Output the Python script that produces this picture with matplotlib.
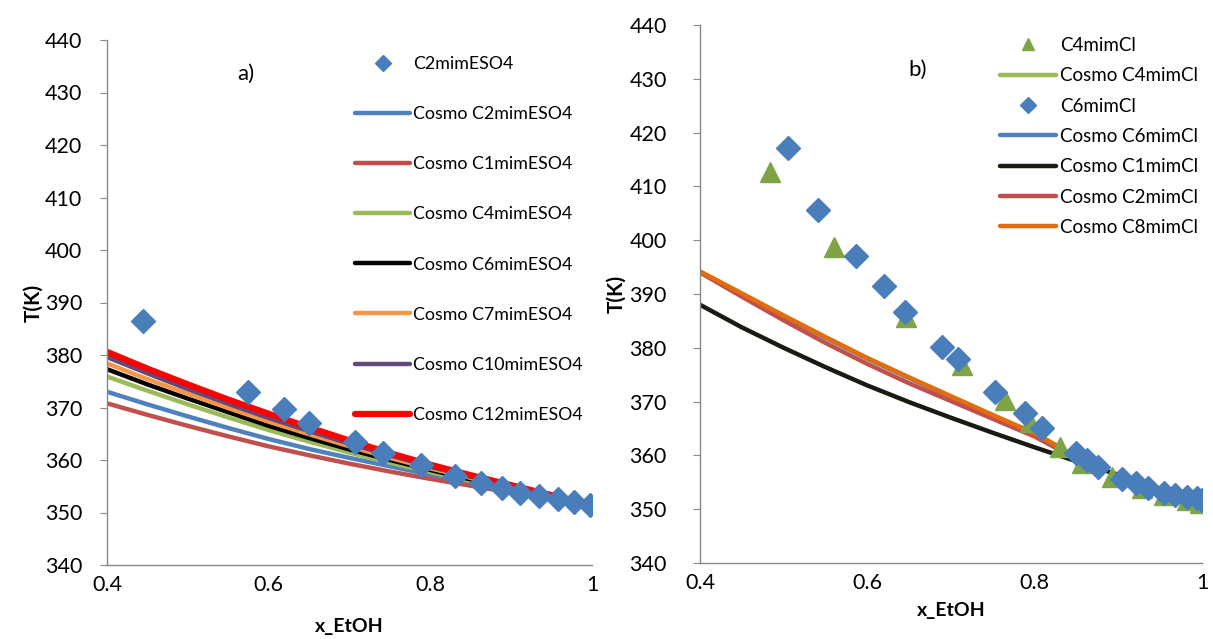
import matplotlib
matplotlib.use("Agg")
import matplotlib.pyplot as plt
from matplotlib.lines import Line2D

plt.rcParams['font.family'] = ['Lato', 'DejaVu Sans']

# ---------------- Panel a) data ----------------
a_exp_x = [0.445, 0.574, 0.619, 0.650, 0.707, 0.741, 0.789, 0.831, 0.863,
           0.889, 0.911, 0.935, 0.958, 0.978, 0.997]
a_exp_T = [386.5, 373.0, 369.7, 367.0, 363.4, 361.4, 359.0, 357.0, 355.7,
           354.6, 353.8, 353.1, 352.5, 352.0, 351.5]

a_cosmo_x = [0.40, 0.45, 0.50, 0.55, 0.60, 0.65, 0.70, 0.75, 0.80, 0.85, 0.90, 0.95, 1.00]
a_C12 = [380.6, 377.4, 374.4, 371.5, 368.8, 366.2, 363.7, 361.3, 359.1, 357.1, 355.2, 353.3, 351.4]
a_C10 = [379.6, 376.5, 373.5, 370.7, 368.0, 365.5, 363.1, 360.9, 358.7, 356.8, 355.0, 353.2, 351.4]
a_C7 = [378.4, 375.4, 372.6, 369.9, 367.3, 364.9, 362.6, 360.4, 358.4, 356.6, 354.8, 353.1, 351.4]
a_C6 = [377.3, 374.4, 371.7, 369.1, 366.5, 364.2, 362.0, 360.0, 358.1, 356.3, 354.6, 353.0, 351.4]
a_C4 = [375.9, 373.2, 370.6, 368.1, 365.7, 363.5, 361.4, 359.5, 357.7, 356.0, 354.4, 352.9, 351.4]
a_C2 = [373.0, 370.6, 368.3, 366.1, 364.0, 362.1, 360.4, 358.8, 357.2, 355.7, 354.2, 352.8, 351.4]
a_C1 = [370.8, 368.6, 366.5, 364.5, 362.6, 360.9, 359.3, 357.8, 356.4, 355.1, 353.8, 352.6, 351.4]

# ---------------- Panel b) data ----------------
b_C4_x = [0.484, 0.560, 0.646, 0.713, 0.764, 0.794, 0.830, 0.857, 0.893,
          0.928, 0.954, 0.982, 0.998]
b_C4_T = [412.7, 398.8, 385.8, 376.8, 370.3, 366.3, 361.6, 358.5, 356.0,
          353.9, 352.6, 351.7, 351.1]

b_C6_x = [0.505, 0.541, 0.586, 0.620, 0.645, 0.689, 0.708, 0.752, 0.788,
          0.809, 0.849, 0.863, 0.876, 0.904, 0.921, 0.936, 0.954, 0.968,
          0.982, 0.994, 1.000]
b_C6_T = [417.1, 405.7, 397.1, 391.4, 386.7, 380.2, 377.9, 371.7, 367.8,
          365.1, 360.5, 359.1, 357.8, 355.6, 354.8, 353.9, 353.1, 352.6,
          352.3, 352.0, 351.7]

b_cosmo_x = [0.40, 0.45, 0.50, 0.55, 0.60, 0.65, 0.70, 0.75, 0.80, 0.835]
b_cosmo_C4 = [394.1, 390.0, 385.9, 381.9, 378.0, 374.4, 370.9, 367.4, 364.0, 361.0]
b_cosmo_C6 = [394.1, 390.0, 385.9, 381.9, 378.0, 374.4, 370.9, 367.4, 364.0, 361.0]
b_cosmo_C2 = [394.0, 389.5, 385.1, 380.9, 377.0, 373.4, 370.1, 366.8, 363.5, 360.6]
b_cosmo_C8 = [394.2, 390.1, 386.0, 382.0, 378.1, 374.5, 371.0, 367.5, 364.1, 361.1]
b_C1_x = [0.40, 0.45, 0.50, 0.55, 0.60, 0.65, 0.70, 0.75, 0.80, 0.85, 0.90]
b_C1_T = [388.0, 383.8, 380.0, 376.4, 373.0, 369.9, 367.0, 364.2, 361.5, 358.9, 356.4]

x_ticks = [0.4, 0.6, 0.8, 1.0]
x_ticklabels = ['0.4', '0.6', '0.8', '1']
y_ticks = [340, 350, 360, 370, 380, 390, 400, 410, 420, 430, 440]

fig = plt.figure(figsize=(12.13, 6.39), dpi=100)
axa = fig.add_axes([107/1213, (639-565)/639, (592-107)/1213, (565-40)/639])
axb = fig.add_axes([700/1213, (639-563)/639, (1202-700)/1213, (563-25)/639])

def style(ax, ypad, xlabpad, ylabpad):
    ax.set_xlim(0.4, 1.0)
    ax.set_ylim(340, 440)
    ax.set_xticks(x_ticks)
    ax.set_xticklabels(x_ticklabels)
    ax.set_yticks(y_ticks)
    for s in ['top', 'right']:
        ax.spines[s].set_visible(False)
    for s in ['left', 'bottom']:
        ax.spines[s].set_color('#888888')
        ax.spines[s].set_linewidth(1.0)
    ax.tick_params(axis='y', direction='out', length=5, color='#888888',
                   labelsize=15.5, pad=ypad)
    ax.tick_params(axis='x', length=0, labelsize=15.5, pad=7)
    ax.set_ylabel('T(K)', fontsize=15, fontweight='bold', labelpad=ylabpad)
    ax.set_xlabel('x_EtOH', fontsize=14, fontweight='bold', labelpad=xlabpad)

style(axa, 13, 17, 1)
style(axb, 19, 7, 2)

# ---- panel a
la = []
la.append(axa.plot(a_exp_x, a_exp_T, 'D', color='#4A7EBB', ms=12, mec='#4A7EBB',
                   zorder=10, label='C2mimESO4')[0])
for y, c, lw, lab in [(a_C2, '#4F81BD', 3.2, 'Cosmo C2mimESO4'),
                      (a_C1, '#C0504D', 3.2, 'Cosmo C1mimESO4'),
                      (a_C4, '#9BBB59', 3.2, 'Cosmo C4mimESO4'),
                      (a_C6, '#000000', 3.2, 'Cosmo C6mimESO4'),
                      (a_C7, '#F79646', 3.2, 'Cosmo C7mimESO4'),
                      (a_C10, '#604A7B', 3.2, 'Cosmo C10mimESO4'),
                      (a_C12, '#FF0000', 4.5, 'Cosmo C12mimESO4')]:
    la.append(axa.plot(a_cosmo_x, y, '-', color=c, lw=lw, label=lab,
                       solid_capstyle='round', solid_joinstyle='round')[0])

axa.legend(handles=[Line2D([], [], ls='none', marker='D', color='#4A7EBB', ms=8)] + la[1:],
           labels=[h.get_label() for h in la],
           loc='upper left', bbox_to_anchor=(248/485, 1 - 16/525),
           frameon=False, fontsize=12.8, handlelength=3.1, handletextpad=0.17,
           labelspacing=1.92, borderaxespad=0, borderpad=0)
axa.text(0.268, 0.925, 'a)', transform=axa.transAxes, fontsize=16)

# ---- panel b
lb_cosmo_C4, = axb.plot(b_cosmo_x, b_cosmo_C4, '-', color='#9BBB59', lw=3.2,
                        label='Cosmo C4mimCl', solid_capstyle='round')
lb_cosmo_C6, = axb.plot(b_cosmo_x, b_cosmo_C6, '-', color='#4F81BD', lw=3.2,
                        label='Cosmo C6mimCl', solid_capstyle='round')
lb_C1, = axb.plot(b_C1_x, b_C1_T, '-', color='#1A1A12', lw=3.2,
                  label='Cosmo C1mimCl', solid_capstyle='round')
lb_C2, = axb.plot(b_cosmo_x, b_cosmo_C2, '-', color='#C0504D', lw=3.2,
                  label='Cosmo C2mimCl', solid_capstyle='round')
lb_C8, = axb.plot(b_cosmo_x, b_cosmo_C8, '-', color='#E46C0A', lw=3.2,
                  label='Cosmo C8mimCl', solid_capstyle='round')
lb_t, = axb.plot(b_C4_x, b_C4_T, '^', color='#7FA445', ms=14, zorder=10,
                 label='C4mimCl')
lb_d, = axb.plot(b_C6_x, b_C6_T, 'D', color='#4A7EBB', ms=12, zorder=11,
                 label='C6mimCl')

hb = [Line2D([], [], ls='none', marker='^', color='#7FA445', ms=9), lb_cosmo_C4,
      Line2D([], [], ls='none', marker='D', color='#4A7EBB', ms=8), lb_cosmo_C6,
      lb_C1, lb_C2, lb_C8]
labs_b = ['C4mimCl', 'Cosmo C4mimCl', 'C6mimCl', 'Cosmo C6mimCl',
          'Cosmo C1mimCl', 'Cosmo C2mimCl', 'Cosmo C8mimCl']
axb.legend(handles=hb, labels=labs_b, loc='upper left',
           bbox_to_anchor=(300/502, 1 - 12/538), frameon=False, fontsize=13.5,
           handlelength=3.0, handletextpad=0.2, labelspacing=0.71,
           borderaxespad=0, borderpad=0)
axb.text(0.415, 0.905, 'b)', transform=axb.transAxes, fontsize=16)

fig.savefig('out.png', dpi=100)
